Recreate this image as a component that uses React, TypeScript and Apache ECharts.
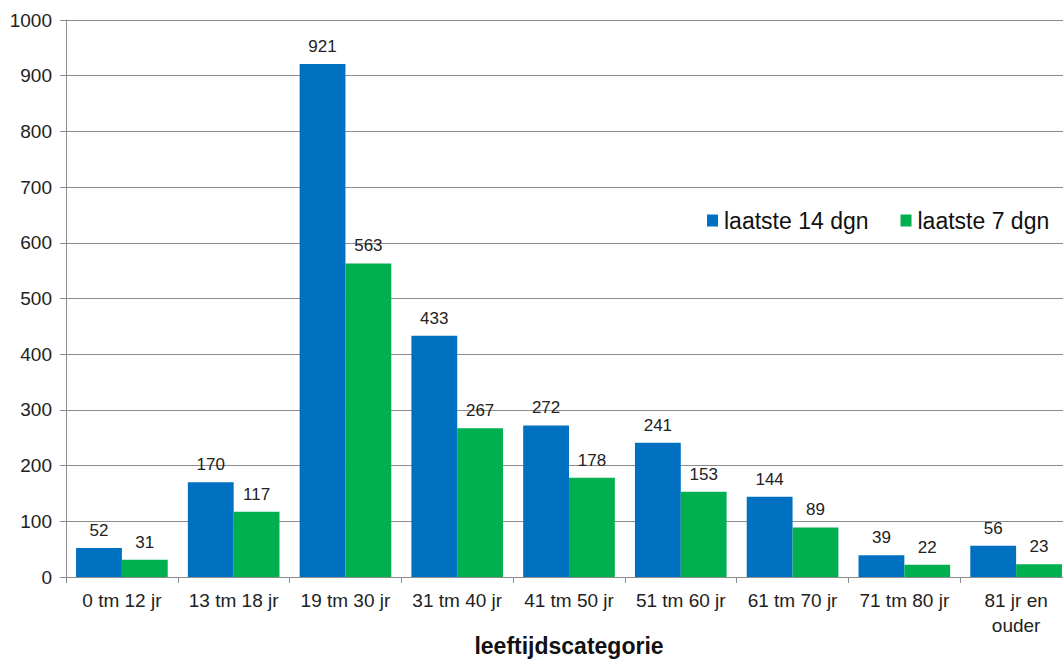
import React, { useEffect, useRef } from "react";
import * as echarts from "echarts";

const categories = [
  "0 tm 12 jr",
  "13 tm 18 jr",
  "19 tm 30 jr",
  "31 tm 40 jr",
  "41 tm 50 jr",
  "51 tm 60 jr",
  "61 tm 70 jr",
  "71 tm 80 jr",
  "81 jr en\nouder",
];
const last14 = [52, 170, 921, 433, 272, 241, 144, 39, 56];
const last7 = [31, 117, 563, 267, 178, 153, 89, 22, 23];
const seriesNames = ["laatste 14 dgn", "laatste 7 dgn"];

export default function App() {
  const ref = useRef<HTMLDivElement>(null);
  useEffect(() => {
    document.body.style.margin = "0";
    document.body.style.overflow = "hidden";
    const chart = echarts.init(ref.current!, null, { renderer: "svg" });
    const font = "Arial, 'Liberation Sans', sans-serif";
    const label = {
      show: true,
      position: "top" as const,
      distance: 9,
      fontSize: 17,
      color: "#222",
      fontFamily: font,
    };
    chart.setOption({
      animation: false,
      backgroundColor: "#fff",
      textStyle: { fontFamily: font },
      grid: {
        left: 66,
        right: -9,
        top: 20,
        bottom: 83,
        containLabel: false,
        outerBoundsMode: "none",
      },
      legend: {
        left: 702,
        top: 204,
        itemWidth: 11,
        itemHeight: 12,
        itemGap: 32,
        icon: "rect",
        textStyle: { fontSize: 23, color: "#111", fontFamily: font, padding: [0, 0, 0, 1] },
        data: seriesNames,
      },
      xAxis: {
        type: "category",
        data: categories,
        name: "leeftijdscategorie",
        nameLocation: "middle",
        nameGap: 57,
        nameMoveOverlap: false,
        nameTextStyle: { fontSize: 23, fontWeight: "bold", color: "#111", fontFamily: font },
        axisLine: { lineStyle: { color: "#8c8c8c", width: 1 } },
        axisTick: { show: true, length: 6, lineStyle: { color: "#8c8c8c" } },
        axisLabel: {
          interval: 0,
          fontSize: 19,
          color: "#222",
          margin: 11,
          lineHeight: 25,
          fontFamily: font,
        },
      },
      yAxis: {
        type: "value",
        min: 0,
        max: 1000,
        interval: 100,
        axisLine: { show: true, lineStyle: { color: "#8c8c8c", width: 1 } },
        axisTick: { show: true, length: 6, lineStyle: { color: "#8c8c8c" } },
        splitLine: { lineStyle: { color: "#8c8c8c", width: 1 } },
        axisLabel: {
          fontSize: 19,
          color: "#222",
          margin: 14,
          fontFamily: font,
          formatter: (v: number) => String(v),
        },
      },
      series: [
        {
          name: seriesNames[0],
          type: "bar",
          data: last14,
          itemStyle: { color: "#0070C0" },
          barGap: "0%",
          barCategoryGap: "18%",
          label,
        },
        {
          name: seriesNames[1],
          type: "bar",
          data: last7,
          itemStyle: { color: "#00B050" },
          barGap: "0%",
          barCategoryGap: "18%",
          label,
        },
      ],
    });
    return () => chart.dispose();
  }, []);
  return <div ref={ref} style={{ width: 1063, height: 660 }} />;
}
